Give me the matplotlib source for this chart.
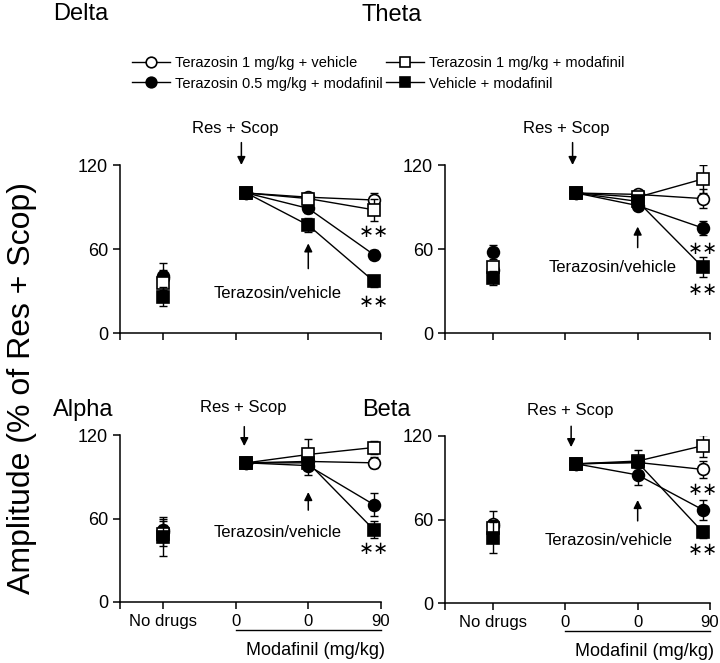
import matplotlib
matplotlib.use('Agg')
import matplotlib.pyplot as plt
from matplotlib.lines import Line2D
import matplotlib.transforms as mtransforms

plt.rcParams['font.family'] = ['Liberation Sans', 'DejaVu Sans']

# ---------------- data ----------------
bands = ['Delta', 'Theta', 'Alpha', 'Beta']
series_names = ['Terazosin 1 mg/kg + vehicle',
                'Terazosin 0.5 mg/kg + modafinil',
                'Terazosin 1 mg/kg + modafinil',
                'Vehicle + modafinil']
stage_labels = ['No drugs', '0', '0', '90']
xlabel_text = 'Modafinil (mg/kg)'
ylabel_text = 'Amplitude (% of Res + Scop)'
yticks = [0, 60, 120]

# stages: No drugs, Res + Scop, Terazosin/vehicle, Modafinil 90
delta_t1_veh = [39, 100, 97, 95]
delta_t05_mod = [41, 100, 89, 56]
delta_t1_mod = [36, 100, 96, 88]
delta_veh_mod = [26, 100, 77, 37]
delta_t1_veh_err = [11, 0, 3, 5]
delta_t05_mod_err = [4, 0, 3, 3]
delta_t1_mod_err = [5, 0, 3, 8]
delta_veh_mod_err = [7, 0, 5, 4]

theta_t1_veh = [45, 100, 99, 96]
theta_t05_mod = [58, 100, 91, 75]
theta_t1_mod = [47, 100, 97, 110]
theta_veh_mod = [39, 100, 94, 47]
theta_t1_veh_err = [4, 0, 2, 7]
theta_t05_mod_err = [5, 0, 3, 5]
theta_t1_mod_err = [4, 0, 3, 10]
theta_veh_mod_err = [5, 0, 3, 7]

alpha_t1_veh = [50, 100, 101, 100]
alpha_t05_mod = [52, 100, 98, 70]
alpha_t1_mod = [49, 100, 106, 111]
alpha_veh_mod = [47, 100, 100, 52]
alpha_t1_veh_err = [10, 0, 3, 4]
alpha_t05_mod_err = [6, 0, 7, 8]
alpha_t1_mod_err = [6, 0, 11, 5]
alpha_veh_mod_err = [14, 0, 4, 6]

beta_t1_veh = [57, 100, 101, 96]
beta_t05_mod = [55, 100, 92, 67]
beta_t1_mod = [54, 100, 102, 113]
beta_veh_mod = [47, 100, 101, 51]
beta_t1_veh_err = [9, 0, 3, 6]
beta_t05_mod_err = [5, 0, 7, 7]
beta_t1_mod_err = [5, 0, 8, 8]
beta_veh_mod_err = [11, 0, 4, 4]

# significance marks (last stage): y values where "**" is drawn
delta_sig = [72, 22]
theta_sig = [60, 31]
alpha_sig = [38]
beta_sig = [81, 38]

panel_values = {
    'Delta': ([delta_t1_veh, delta_t05_mod, delta_t1_mod, delta_veh_mod],
              [delta_t1_veh_err, delta_t05_mod_err, delta_t1_mod_err, delta_veh_mod_err], delta_sig),
    'Theta': ([theta_t1_veh, theta_t05_mod, theta_t1_mod, theta_veh_mod],
              [theta_t1_veh_err, theta_t05_mod_err, theta_t1_mod_err, theta_veh_mod_err], theta_sig),
    'Alpha': ([alpha_t1_veh, alpha_t05_mod, alpha_t1_mod, alpha_veh_mod],
              [alpha_t1_veh_err, alpha_t05_mod_err, alpha_t1_mod_err, alpha_veh_mod_err], alpha_sig),
    'Beta': ([beta_t1_veh, beta_t05_mod, beta_t1_mod, beta_veh_mod],
             [beta_t1_veh_err, beta_t05_mod_err, beta_t1_mod_err, beta_veh_mod_err], beta_sig),
}

# ---------------- layout / style ----------------
W, H = 720, 663
fig = plt.figure(figsize=(W / 100, H / 100), dpi=100)

stage_x = [0, 1.15, 2, 2.9]      # where each stage's points sit on the x axis
tick_x = [0, 1, 2, 3]

styles = [dict(marker='o', mfc='white', ms=8.5, z=3),
          dict(marker='o', mfc='black', ms=8.5, z=4),
          dict(marker='s', mfc='white', ms=8.5, z=5),
          dict(marker='s', mfc='black', ms=8.5, z=6)]

panel_layout = {
    'Delta': dict(box=(120, 165, 381, 333), xmin=-0.589, title=(53, 14),
                  rs_text=(1.0, 146), rs_arrow=(1.08, 136, 120),
                  tv_text=(1.58, 28), tv_arrow=(2, 46, 64), bottom=False),
    'Theta': dict(box=(445, 165, 710, 333), xmin=-0.664, title=(362, 15),
                  rs_text=(1.01, 146), rs_arrow=(1.1, 136, 120),
                  tv_text=(1.65, 47), tv_arrow=(2, 61, 76), bottom=False),
    'Alpha': dict(box=(120, 435, 381, 602), xmin=-0.589, title=(53, 410),
                  rs_text=(1.1, 140), rs_arrow=(1.12, 126, 112),
                  tv_text=(1.58, 50), tv_arrow=(2, 66, 79), bottom=True),
    'Beta': dict(box=(445, 436, 710, 603), xmin=-0.664, title=(362, 410),
                 rs_text=(1.07, 138), rs_arrow=(1.08, 127, 112),
                 tv_text=(1.6, 45), tv_arrow=(2, 59, 74), bottom=True),
}

arrow_props = dict(arrowstyle='-|>', mutation_scale=12, lw=1.1, color='black',
                   shrinkA=0, shrinkB=0)

for band in bands:
    lay = panel_layout[band]
    l, t, r, b = lay['box']
    ax = fig.add_axes([l / W, 1 - b / H, (r - l) / W, (b - t) / H])
    vals, errs, sig = panel_values[band]

    for s_i, (v, e) in enumerate(zip(vals, errs)):
        st = styles[s_i]
        ax.plot(stage_x[1:], v[1:], color='black', lw=1.0, zorder=2)
        ax.errorbar(stage_x, v, yerr=e, fmt='none', ecolor='black', elinewidth=1.0,
                    capsize=3.2, capthick=1.0, zorder=st['z'] - 0.5)
        ax.plot(stage_x, v, linestyle='none', marker=st['marker'], ms=st['ms'],
                mfc=st['mfc'], mec='black', mew=1.2, zorder=st['z'])

    for yv in sig:
        ax.text(stage_x[3], yv, '∗∗', ha='center', va='center', fontsize=13,
                family='DejaVu Sans')

    ax.set_xlim(lay['xmin'], 3)
    ax.set_ylim(0, 120)
    ax.set_yticks(yticks)
    ax.set_yticklabels([str(y) for y in yticks], fontsize=13)
    ax.set_xticks([lay['xmin']] + tick_x)
    if lay['bottom']:
        ax.set_xticklabels([''] + stage_labels, fontsize=12)
        nd = ax.get_xticklabels()[1]
        nd.set_transform(nd.get_transform() +
                         mtransforms.ScaledTranslation(15 / 100, 0, fig.dpi_scale_trans))
        tr = mtransforms.blended_transform_factory(ax.transData, ax.transAxes)
        ax.plot([1, 3], [-0.165, -0.165], color='black', lw=1.0, transform=tr,
                clip_on=False)
        ax.text(2.1, -0.29, xlabel_text, transform=tr, ha='center', va='center',
                fontsize=13)
    else:
        ax.set_xticklabels([''] * 5)

    for sp in ['top', 'right']:
        ax.spines[sp].set_visible(False)
    for sp in ['left', 'bottom']:
        ax.spines[sp].set_linewidth(1.1)
    ax.tick_params(direction='out', length=5, width=1.1, pad=3.5)

    ax.text(lay['rs_text'][0], lay['rs_text'][1], 'Res + Scop', ha='center',
            va='center', fontsize=12, clip_on=False)
    xa, y0, y1 = lay['rs_arrow']
    ax.annotate('', xy=(xa, y1), xytext=(xa, y0), arrowprops=arrow_props,
                annotation_clip=False)
    ax.text(lay['tv_text'][0], lay['tv_text'][1], 'Terazosin/vehicle', ha='center',
            va='center', fontsize=12)
    xa, y0, y1 = lay['tv_arrow']
    ax.annotate('', xy=(xa, y1), xytext=(xa, y0), arrowprops=arrow_props,
                annotation_clip=False)

    fig.text(lay['title'][0] / W, 1 - lay['title'][1] / H, band, ha='left',
             va='center', fontsize=17)

handles = []
for s_i, name in enumerate(series_names):
    st = styles[s_i]
    handles.append(Line2D([], [], color='black', lw=1.0, marker=st['marker'],
                          ms=st['ms'] * 0.9, mfc=st['mfc'], mec='black', mew=1.2,
                          label=name))
fig.legend(handles=handles, labels=series_names, ncol=2, loc='upper left',
           bbox_to_anchor=(132 / W, 1 - 56 / H), frameon=False, fontsize=10.5,
           borderpad=0, borderaxespad=0, handlelength=2.6, handletextpad=0.35,
           columnspacing=0.25, labelspacing=0.45)

fig.text(22 / W, 1 - 388 / H, ylabel_text, rotation=90, ha='center', va='center',
         fontsize=23)

fig.savefig('out.png', dpi=100)
